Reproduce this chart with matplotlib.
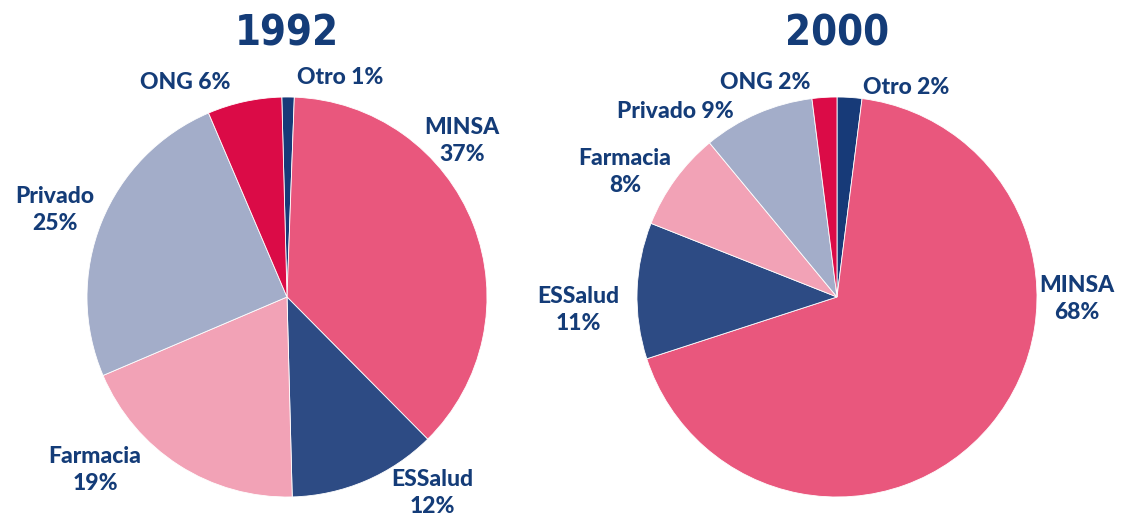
import matplotlib
matplotlib.use("Agg")
import matplotlib.pyplot as plt

years = ["1992", "2000"]
categories = ["Otro", "MINSA", "ESSalud", "Farmacia", "Privado", "ONG"]
values_1992 = [1, 37, 12, 19, 25, 6]
values_2000 = [2, 68, 11, 8, 9, 2]
colors = ["#173A78", "#E9577D", "#2D4B84", "#F2A2B6", "#A3ADC9", "#DB0B47"]
navy = "#143C78"

W, H = 1130, 516
fig = plt.figure(figsize=(W / 100, H / 100), dpi=100)
plt.rcParams['font.family'] = ['Lato', 'DejaVu Sans']

R = 200


def pie_axes(cx, cy):
    ax = fig.add_axes([(cx - R) / W, (H - cy - R) / H, 2 * R / W, 2 * R / H])
    return ax


def finish(ax):
    ax.set_xlim(-1, 1)
    ax.set_ylim(-1, 1)
    ax.set_aspect('equal')
    ax.axis('off')


def px(x, y):
    return x / W, 1 - y / H


ax1 = pie_axes(287, 297)
ax1.pie(values_1992, colors=colors, startangle=91.5, counterclock=False,
        radius=1.0, wedgeprops=dict(edgecolor="white", linewidth=0.6))
finish(ax1)
ax2 = pie_axes(837, 297)
ax2.pie(values_2000, colors=colors, startangle=90, counterclock=False,
        radius=1.0, wedgeprops=dict(edgecolor="white", linewidth=0.6))
finish(ax2)

kw = dict(color=navy, fontweight='black', fontsize=16.5, ha='center', va='center',
          linespacing=1.3)

labels_1992 = {
    "ONG": ((185, 82), "{} {}%"),
    "Otro": ((340, 78), "{} {}%"),
    "MINSA": ((462, 141), "{}\n{}%"),
    "Privado": ((55, 210), "{}\n{}%"),
    "Farmacia": ((95, 470), "{}\n{}%"),
    "ESSalud": ((432, 493), "{}\n{}%"),
}
labels_2000 = {
    "ONG": ((765, 82), "{} {}%"),
    "Otro": ((906, 88), "{} {}%"),
    "Privado": ((675, 112), "{} {}%"),
    "Farmacia": ((625, 172), "{}\n{}%"),
    "ESSalud": ((578, 310), "{}\n{}%"),
    "MINSA": ((1077, 299), "{}\n{}%"),
}

for labels, vals in ((labels_1992, values_1992), (labels_2000, values_2000)):
    for cat, v in zip(categories, vals):
        (x, y), fmt = labels[cat]
        fig.text(*px(x, y), fmt.format(cat, v), **kw)

for (x, y), yr in zip(((287, 33), (837, 33)), years):
    fig.text(*px(x, y), yr, color=navy, fontweight='black', fontsize=30,
             ha='center', va='center', family=['DejaVu Sans'], fontstretch='condensed')

fig.savefig("out.png", dpi=100, facecolor="white")
